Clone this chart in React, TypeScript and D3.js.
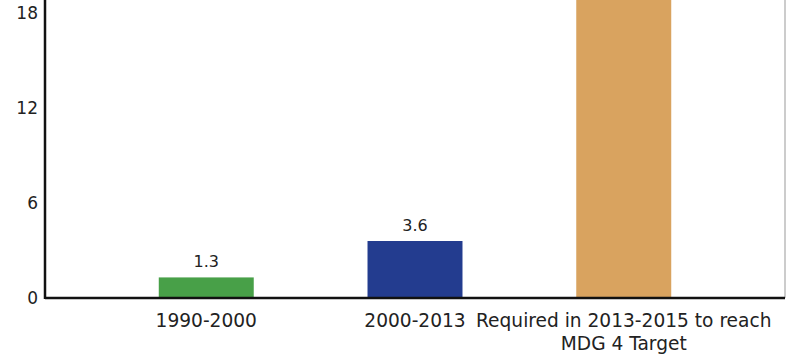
import React from "react";
import * as d3 from "d3";

const categories = ["1990-2000", "2000-2013", "Required in 2013-2015 to reach|MDG 4 Target"];
const values = [1.3, 3.6, 22];
const colors = ["#48a048", "#233c8f", "#d9a35f"];
const yTicks = [0, 6, 12, 18];

const W = 792;
const H = 354;
const left = 45;
const right = 785;
const y0px = 298;
const y18px = 13;

export default function App() {
  const x = d3.scaleBand<string>().domain(categories).range([left, right]).padding(0.545);
  const y = d3.scaleLinear().domain([0, 18]).range([y0px, y18px]);
  const font = "Verdana, 'DejaVu Sans', sans-serif";
  return (
    <svg width={W} height={H} style={{ position: "absolute", left: 0, top: 0, background: "#fff" }}>
      <line x1={right} x2={right} y1={0} y2={y0px} stroke="#999" strokeWidth={1} />
      {categories.map((c, i) => (
        <rect key={c} x={x(c)} width={x.bandwidth()} y={y(values[i])} height={y0px - y(values[i])} fill={colors[i]} />
      ))}
      {categories.map((c, i) =>
        y(values[i]) - 10 > 0 ? (
          <text key={"v" + c} x={(x(c) as number) + x.bandwidth() / 2} y={y(values[i]) - 10} textAnchor="middle" fontFamily={font} fontSize={16} fill="#222">
            {values[i].toFixed(1)}
          </text>
        ) : null
      )}
      <line x1={left} x2={left} y1={0} y2={y0px + 1} stroke="#111" strokeWidth={2.5} />
      <line x1={left} x2={right} y1={y0px} y2={y0px} stroke="#111" strokeWidth={2.5} />
      {yTicks.map((t) => (
        <text key={t} x={38} y={y(t)} dy="0.36em" textAnchor="end" fontFamily={font} fontSize={17} fill="#222">
          {t}
        </text>
      ))}
      {categories.map((c) => {
        const lines = c.split("|");
        return (
          <text key={"c" + c} x={(x(c) as number) + x.bandwidth() / 2} y={327} textAnchor="middle" fontFamily={font} fontSize={18.6} fill="#222">
            {lines.map((l, j) => (
              <tspan key={j} x={(x(c) as number) + x.bandwidth() / 2} dy={j === 0 ? 0 : 23}>
                {l}
              </tspan>
            ))}
          </text>
        );
      })}
    </svg>
  );
}
